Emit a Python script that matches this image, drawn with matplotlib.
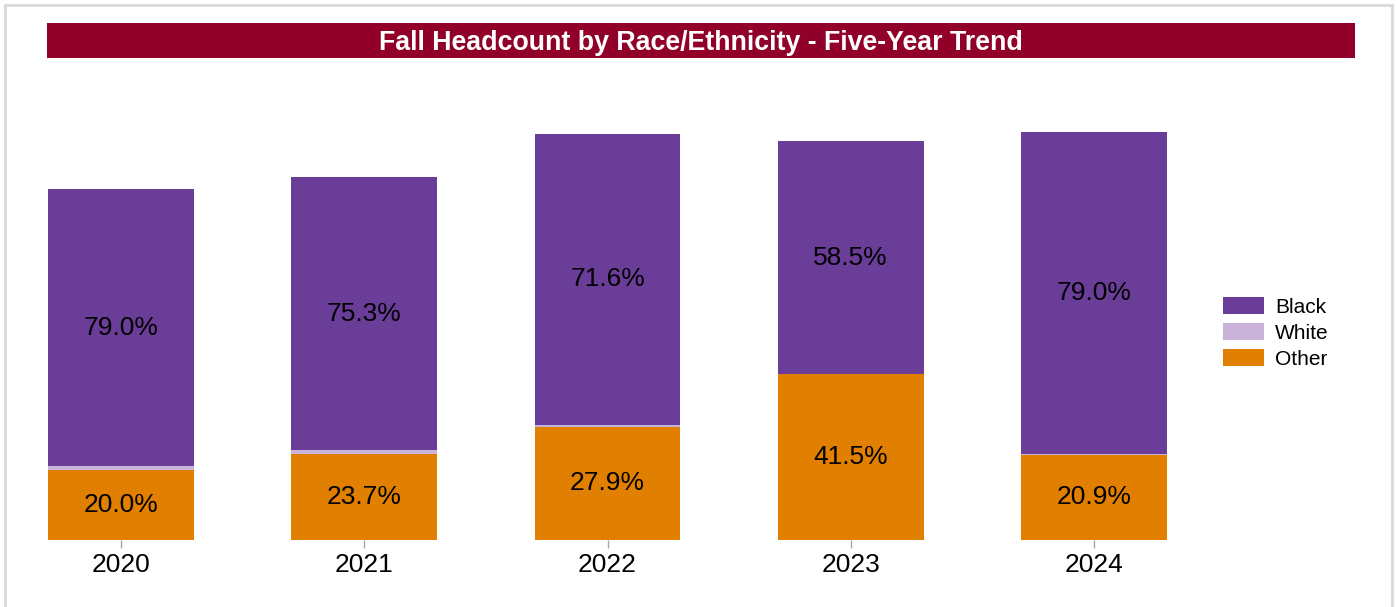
import matplotlib.pyplot as plt
from matplotlib.patches import Rectangle
import numpy as np

plt.rcParams['font.family'] = ['Liberation Sans', 'DejaVu Sans']

years = ['2020', '2021', '2022', '2023', '2024']
headcount = [1404, 1452, 1624, 1596, 1632]
pct_black = [79.0, 75.3, 71.6, 58.5, 79.0]
pct_white = [1.0, 1.0, 0.5, 0.0, 0.1]
pct_other = [20.0, 23.7, 27.9, 41.5, 20.9]

colors = {'Black': '#6a3d99', 'White': '#c9b3d9', 'Other': '#e07f00'}

W, H = 1397, 607
fig = plt.figure(figsize=(W / 100, H / 100), dpi=100)

# light frame round the whole chart
fig.patches.append(Rectangle((5 / W, -0.05), 1387 / W, 1.05 - 5 / H, transform=fig.transFigure,
                             fill=False, edgecolor='#d9d9d9', linewidth=2))
# title bar
fig.patches.append(Rectangle((47 / W, 1 - 58 / H), 1308 / W, 35 / H, transform=fig.transFigure,
                             facecolor='#900028', edgecolor='none'))
fig.text(701 / W, 1 - 43 / H, 'Fall Headcount by Race/Ethnicity - Five-Year Trend',
         color='white', fontsize=19.3, fontweight='bold', ha='center', va='center')

ax = fig.add_axes([48 / W, (H - 540) / H, (1167 - 48) / W, 470 / H])

x = np.arange(len(years))
tot = np.array(headcount, dtype=float)
other = tot * np.array(pct_other) / 100
white = tot * np.array(pct_white) / 100
black = tot * np.array(pct_black) / 100

w = 0.6
ax.bar(x, other, w, color=colors['Other'], label='Other')
ax.bar(x, white, w, bottom=other, color=colors['White'], label='White')
ax.bar(x, black, w, bottom=other + white, color=colors['Black'], label='Black')

for i in range(len(years)):
    ax.text(x[i], other[i] / 2, f'{pct_other[i]:.1f}%', ha='center', va='center', fontsize=19)
    ax.text(x[i], other[i] + white[i] + black[i] / 2, f'{pct_black[i]:.1f}%',
            ha='center', va='center', fontsize=19)

ax.set_xlim(-0.3, 4.3)
ax.set_ylim(0, tot.max() * 470 / 408)
ax.set_xticks(x)
ax.set_xticklabels(years, fontsize=19)
ax.tick_params(axis='x', length=6, color='#a6a6a6', width=1, pad=3)
ax.set_yticks([])
for s in ax.spines.values():
    s.set_visible(False)

handles, labels = ax.get_legend_handles_labels()
order = [2, 1, 0]
fig.legend([handles[k] for k in order], [labels[k] for k in order],
           loc='center left', bbox_to_anchor=(1204 / W, 1 - 333 / H), frameon=False,
           fontsize=15, handlelength=2.0, handleheight=0.9, labelspacing=0.3, handletextpad=0.5)

fig.savefig('out.png', dpi=100)
